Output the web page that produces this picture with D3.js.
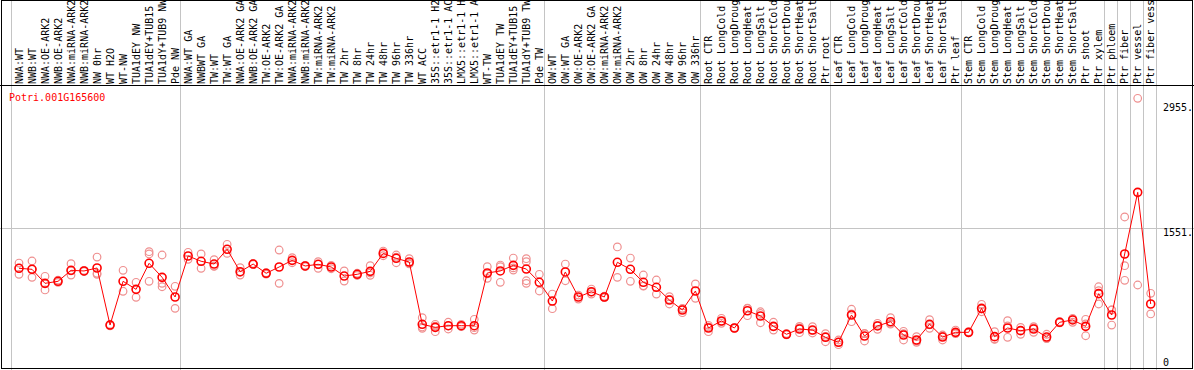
<!DOCTYPE html>
<html>
<head>
<meta charset="utf-8">
<script src="https://cdn.jsdelivr.net/npm/d3@7"></script>
<style>
  body { margin: 0; background: #fff; }
  svg text { font-family: "DejaVu Sans Mono", monospace; font-size: 10px; }
</style>
</head>
<body>
<svg id="chart"></svg>
<script>
const geneId = 'Potri.001G165600';

// sample labels as shown (already cut to 14 chars in the picture)
const samples = [
  'NWA:WT', 'NWB:WT', 'NWA:OE-ARK2', 'NWB:OE-ARK2', 'NWA:miRNA-ARK2', 'NWB:miRNA-ARK2',
  'NW 0hr', 'WT H2O', 'WT-NW', 'TUA1dEY NW', 'TUA1dEY+TUB15', 'TUA1dY+TUB9 NW', 'Pde NW',
  'NWA:WT GA', 'NWBWT GA', 'TW:WT', 'TW:WT GA', 'NWA:OE-ARK2 GA', 'NWB:OE-ARK2 GA',
  'TW:OE-ARK2', 'TW:OE-ARK2 GA', 'NWA:miRNA-ARK2', 'NWB:miRNA-ARK2', 'TW:miRNA-ARK2',
  'TW:miRNA-ARK2',
  'TW 2hr', 'TW 8hr', 'TW 24hr', 'TW 48hr', 'TW 96hr', 'TW 336hr', 'WT ACC',
  '35S::etr1-1 H2', '35S::etr1-1 AC', 'LMX5::etr1-1 H', 'LMX5::etr1-1 A', 'WT-TW',
  'TUA1dEY TW', 'TUA1dEY+TUB15', 'TUA1dY+TUB9 TW', 'Pde TW',
  'OW:WT', 'OW:WT GA', 'OW:OE-ARK2', 'OW:OE-ARK2 GA', 'OW:miRNA-ARK2', 'OW:miRNA-ARK2',
  'OW 2hr', 'OW 8hr', 'OW 24hr', 'OW 48hr', 'OW 96hr', 'OW 336hr',
  'Root CTR', 'Root LongCold', 'Root LongDroug', 'Root LongHeat', 'Root LongSalt',
  'Root ShortCold', 'Root ShortDrou', 'Root ShortHeat', 'Root ShortSalt', 'Ptr root',
  'Leaf CTR', 'Leaf LongCold', 'Leaf LongDroug', 'Leaf LongHeat', 'Leaf LongSalt',
  'Leaf ShortCold', 'Leaf ShortDrou', 'Leaf ShortHeat', 'Leaf ShortSalt', 'Ptr leaf',
  'Stem CTR', 'Stem LongCold', 'Stem LongDroug', 'Stem LongHeat', 'Stem LongSalt',
  'Stem ShortCold', 'Stem ShortDrou', 'Stem ShortHeat', 'Stem ShortSalt', 'Ptr shoot',
  'Ptr xylem', 'Ptr phloem', 'Ptr fiber', 'Ptr vessel', 'Ptr fiber vess'
];

// mean expression per sample (the connected dark circles)
const means = [
  1113, 1102, 950, 972, 1091, 1084, 1116, 498, 972, 885, 1167, 1015, 802,
  1246, 1189, 1159, 1319, 1076, 1159, 1059, 1127, 1199, 1138, 1156, 1127,
  1029, 1048, 1080, 1275, 1221, 1181, 506, 473, 491, 491, 491, 1062,
  1084, 1145, 1105, 961,
  758, 1073, 802, 859, 802, 1178, 1102, 961, 907, 769, 661, 867,
  466, 542, 466, 653, 596, 484, 398, 455, 444, 365,
  311, 607, 379, 488, 534, 390, 336, 506, 368, 419,
  419, 679, 372, 466, 437, 455, 368, 528, 553, 484, 838,
  607, 1268, 1936, 726
];

// single replicates per sample (the pale circles)
const replicates = [
  [1170, 1113, 1048], [1192, 1102, 1015], [1026, 946, 878], [985, 960], [1163, 1084, 1040],
  [1090, 1078], [1235, 1059, 1048], [505, 490], [1091, 864], [961, 799],
  [1293, 1268, 972], [1257, 950, 913], [918, 679],
  [1286, 1210], [1268, 1113], [1206, 1138, 1133], [1373, 1275], [1119, 1040, 1069],
  [1165, 1155], [1065, 1050], [1311, 950], [1228, 1173], [1145, 1130],
  [1185, 1156, 1113], [1145, 1108], [1084, 975], [1059, 1035, 1050], [1141, 1037, 1062],
  [1300, 1249], [1257, 1173, 1233], [1217, 1167, 1160], [578, 463, 477],
  [506, 487, 426], [528, 455, 490], [506, 480, 487], [560, 444, 470],
  [1130, 1004, 1052], [1148, 1130, 961], [1224, 1094, 1117], [1217, 1184, 978, 950],
  [1048, 867],
  [834, 675], [1159, 978], [823, 780], [888, 834, 855], [810, 795],
  [1344, 1015], [1224, 972], [1040, 924, 920], [986, 834], [805, 726, 776],
  [679, 632, 672], [943, 788],
  [495, 426, 477], [571, 517, 538], [470, 462], [679, 599, 681], [642, 523, 623],
  [528, 444, 480], [405, 392], [484, 415, 466], [480, 412, 440], [404, 317, 374],
  [336, 285, 312], [669, 534, 618], [408, 325, 404], [517, 452, 495], [578, 517, 507],
  [430, 336, 404], [372, 311, 325], [556, 463, 499], [390, 336, 378], [444, 408, 405],
  [425, 413], [723, 642, 672], [426, 347, 343], [545, 365, 488], [473, 398, 440],
  [480, 419, 466], [398, 354, 352], [535, 521], [560, 528, 571], [560, 382, 510],
  [913, 870, 726],
  [661, 498, 662], [1669, 1141, 983], [2955, 932], [842, 618]
];

// last sample index (1-based) of each block, a grey rule follows it
const groupEnds = [13, 41, 53, 63, 73, 84, 85, 86, 87, 88];
const yTicks = [2955, 1551, 0];

const width = 1194, height = 370;
const headerH = 86;

const svg = d3.select('#chart')
  .attr('width', width)
  .attr('height', height);

const x = d3.scalePoint()
  .domain(d3.range(samples.length))
  .range([19, 1150.7]);

const y = d3.scaleLinear()
  .domain([0, 2955])
  .range([371, 98.3]);

/* --- grey rules --- */
const ruleX = [x(0) - 8.3, ...groupEnds.map(i => x(i - 1) + 5)];
svg.append('g')
  .selectAll('line')
  .data(ruleX)
  .join('line')
    .attr('x1', d => Math.round(d) + 0.5).attr('x2', d => Math.round(d) + 0.5)
    .attr('y1', 0).attr('y2', height)
    .attr('stroke', '#c4c4c4');

// horizontal grid at the middle tick
svg.append('line')
  .attr('x1', 0).attr('x2', width)
  .attr('y1', Math.round(y(1551)) + 0.5).attr('y2', Math.round(y(1551)) + 0.5)
  .attr('stroke', '#c4c4c4');

/* --- header labels --- */
svg.append('g')
  .selectAll('text')
  .data(samples)
  .join('text')
    .attr('transform', (d, i) => `translate(${x(i)},${headerH - 2}) rotate(-90)`)
    .attr('dy', '0.35em')
    .attr('fill', '#000')
    .text(d => d);

// frame + header separator
svg.append('rect')
  .attr('x', 1.5).attr('y', 0.5)
  .attr('width', width - 3).attr('height', height - 2)
  .attr('fill', 'none').attr('stroke', '#000');
svg.append('line')
  .attr('x1', 0).attr('x2', width)
  .attr('y1', headerH - 0.5).attr('y2', headerH - 0.5)
  .attr('stroke', '#000');

/* --- y labels --- */
svg.append('g')
  .selectAll('text')
  .data(yTicks)
  .join('text')
    .attr('x', 1163)
    .attr('y', d => Math.min(Math.max(y(d), 103), 358))
    .attr('dy', '0.8em')
    .attr('fill', '#000')
    .text(d => d === 0 ? '0' : d + '.');

/* --- title --- */
svg.append('text')
  .attr('x', 9).attr('y', 101)
  .attr('fill', '#ff0000')
  .text(geneId);

/* --- replicates --- */
const reps = replicates.flatMap((vals, i) => vals.map(v => ({ i, v })));
svg.append('g')
  .selectAll('circle')
  .data(reps)
  .join('circle')
    .attr('cx', d => x(d.i))
    .attr('cy', d => y(d.v))
    .attr('r', 3.8)
    .attr('fill', 'none')
    .attr('stroke', '#ef9090')
    .attr('stroke-width', 1.2);

/* --- mean line + circles --- */
svg.append('path')
  .datum(means)
  .attr('fill', 'none')
  .attr('stroke', '#ff0000')
  .attr('stroke-width', 1)
  .attr('d', d3.line().x((d, i) => x(i)).y(d => y(d)));

svg.append('g')
  .selectAll('circle')
  .data(means)
  .join('circle')
    .attr('cx', (d, i) => x(i))
    .attr('cy', d => y(d))
    .attr('r', 4)
    .attr('fill', 'none')
    .attr('stroke', '#ff0000')
    .attr('stroke-width', 1.6);
</script>
</body>
</html>
